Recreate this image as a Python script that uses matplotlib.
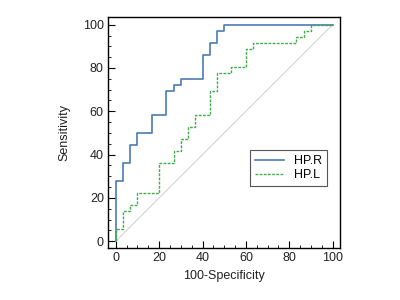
import numpy as np
import matplotlib
matplotlib.use("Agg")
import matplotlib.pyplot as plt
from matplotlib.ticker import MultipleLocator

plt.rcParams['font.family'] = ['Liberation Sans', 'DejaVu Sans']

# ROC points (100-specificity, sensitivity)
hpr_x = [0, 0, 3.33, 6.67, 10, 16.67, 23.33, 26.67, 30, 40, 43.33, 46.67, 50, 100]
hpr_y = [0, 27.8, 36.1, 44.4, 50, 58.3, 69.4, 72.2, 75, 86.1, 91.7, 97.2, 100, 100]

hpl_x = [0, 0, 3.33, 6.67, 10, 20, 26.67, 30, 33.33, 36.67, 43.33, 46.67, 53.33,
         60, 63.33, 83.33, 86.67, 90, 100]
hpl_y = [0, 5.6, 13.9, 16.7, 22.2, 36.1, 41.7, 47.2, 52.8, 58.3, 69.4, 77.8, 80.6,
         88.9, 91.7, 94.4, 97.2, 100, 100]

fig = plt.figure(figsize=(4, 3), dpi=100)
ax = fig.add_axes([0.27, 0.173, 0.58, 0.77])

ax.plot([0, 100], [0, 100], color='#d4d4d4', lw=0.8)
ax.plot(hpr_x, hpr_y, drawstyle='steps-post', color='#4a7ab5', lw=1.2, label='HP.R')
ax.plot(hpl_x, hpl_y, drawstyle='steps-post', color='#3fae49', lw=1.0,
        linestyle=(0, (2, 1)), label='HP.L')

ax.set_xlim(-3.6, 103.4)
ax.set_ylim(-3.2, 103.5)
ax.xaxis.set_major_locator(MultipleLocator(20))
ax.yaxis.set_major_locator(MultipleLocator(20))
ax.xaxis.set_minor_locator(MultipleLocator(5))
ax.yaxis.set_minor_locator(MultipleLocator(5))
ax.tick_params(which='major', direction='in', length=5, width=0.8, labelsize=9,
               pad=3, labelcolor='#222222')
ax.tick_params(which='minor', direction='in', length=2.5, width=0.6)
for s in ax.spines.values():
    s.set_linewidth(1.0)

ax.set_xlabel('100-Specificity', fontsize=9, labelpad=4, color='#222222')
ax.set_ylabel('Sensitivity', fontsize=9, labelpad=9, color='#222222')

leg = ax.legend(loc='lower right', bbox_to_anchor=(0.97, 0.24), fontsize=9,
                fancybox=False, framealpha=1, edgecolor='#555555',
                handlelength=2.3, borderpad=0.4, labelspacing=0.2)
leg.get_frame().set_linewidth(0.8)

fig.savefig('out.png', dpi=100)
